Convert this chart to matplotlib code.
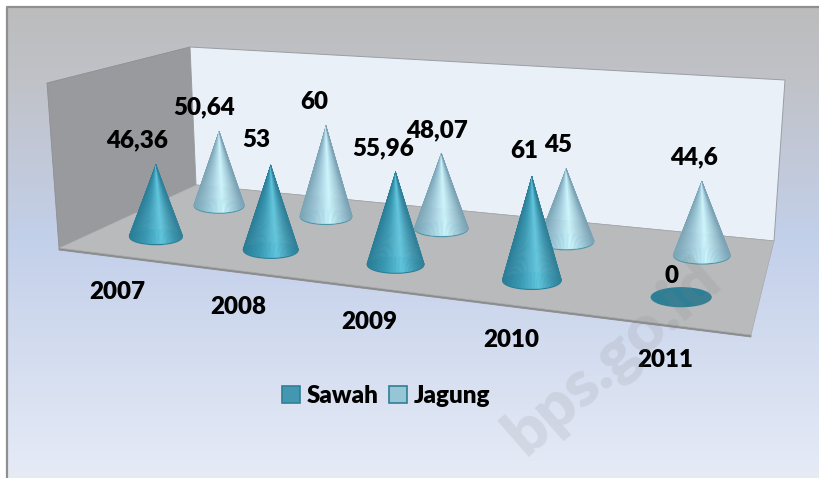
import numpy as np
import matplotlib
matplotlib.use("Agg")
import matplotlib.pyplot as plt
from matplotlib.collections import PolyCollection
from matplotlib.colors import LinearSegmentedColormap
from matplotlib.patches import Polygon, Ellipse, Patch

categories = ["2007", "2008", "2009", "2010", "2011"]
sawah = [46.36, 53, 55.96, 61, 0]
jagung = [50.64, 60, 48.07, 45, 44.6]
sawah_labels = ["46,36", "53", "55,96", "61", "0"]
jagung_labels = ["50,64", "60", "48,07", "45", "44,6"]
axis_max = 100.0

plt.rcParams["font.family"] = ["Lato", "DejaVu Sans"]
fig = plt.figure(figsize=(8.2, 4.78), dpi=100)
ax = fig.add_axes([0, 0, 1, 1])

# background
stops_y = [7, 80, 240, 478]
stops_r = [0xbc, 0xc0, 0xc3, 0xe6]
stops_g = [0xbc, 0xc2, 0xd0, 0xeb]
stops_b = [0xbc, 0xc8, 0xea, 0xf6]
ys = np.arange(7, 478)
grad = np.stack([np.interp(ys, stops_y, c) for c in (stops_r, stops_g, stops_b)], axis=1)[:, None, :] / 255
ax.imshow(grad, extent=(7, 820, 478, 7), aspect="auto", zorder=0)
ax.set_xlim(0, 820)
ax.set_ylim(478, 0)
ax.axis("off")
ax.plot([820, 7, 7], [7, 7, 478], color="#8f8f8f", lw=1.6, zorder=1)

# 3-D box corners in picture space
FL, FR, BR, BL = (59, 248), (751, 335), (774, 241), (196, 185)
TL_back, TR_back, TL_left = (190, 47), (785, 80), (47, 83)
ax.add_patch(Polygon([TL_left, TL_back, BL, FL], fc="#989a9d", ec="#8d8f92", lw=0.6, zorder=2))
ax.add_patch(Polygon([TL_back, TR_back, BR, BL], fc="#e9f0f8", ec="#9a9ea3", lw=0.7, zorder=2))
ax.add_patch(Polygon([(FL[0], FL[1] + 2), (FR[0], FR[1] + 2), FR, FL], fc="#8c8c8c", ec="#8c8c8c", lw=0.6, zorder=3))
ax.add_patch(Polygon([FL, FR, BR, BL], fc="#b8babc", ec="#a8aaac", lw=0.5, zorder=3))


def homography(quad):
    src = [(0, 0), (1, 0), (1, 1), (0, 1)]
    A, b = [], []
    for (u, v), (x, y) in zip(src, quad):
        A.append([u, v, 1, 0, 0, 0, -u * x, -v * x]); b.append(x)
        A.append([0, 0, 0, u, v, 1, -u * y, -v * y]); b.append(y)
    return np.append(np.linalg.solve(np.array(A, float), np.array(b, float)), 1).reshape(3, 3)


H = homography([FL, FR, BR, BL])


def floor(u, v):
    p = H @ np.array([u, v, 1.0])
    return p[0] / p[2], p[1] / p[2]


def wall_height(u, v):
    front = 155 * (1 - u) + 183 * u
    back = 138 * (1 - u) + 161 * u
    return front * (1 - v) + back * v


def cone(u, v, value, cmap, rim, flat, z):
    cx, cy = floor(u, v)
    H_full = wall_height(u, v)
    rx = 0.175 * H_full
    ry = rx * 0.30
    if value == 0:
        ax.add_patch(Ellipse((cx, cy), 2 * rx, 2 * ry * 1.1, fc=flat, ec="none", zorder=z))
        return cx, cy
    top = cy - value / axis_max * H_full
    ax.add_patch(Ellipse((cx, cy + 1.4), 2 * rx, 2 * ry, fc=rim, ec="none", zorder=z))
    t = np.linspace(np.pi, 0, 61)
    px, py = cx + rx * np.cos(t), cy + ry * np.sin(t)
    polys, cols = [], []
    for i in range(60):
        polys.append([(cx, top), (px[i], py[i]), (px[i + 1], py[i + 1])])
        cols.append(cmap((np.cos(t[i]) + np.cos(t[i + 1])) / 4 + 0.5))
    ax.add_collection(PolyCollection(polys, facecolors=cols, edgecolors=cols, linewidths=0.3, zorder=z + 0.1))
    return cx, top


cm_s = LinearSegmentedColormap.from_list("s", [(0, "#2a7d96"), (0.3, "#3a9ab5"), (0.62, "#62c8df"), (0.85, "#3f97b0"), (1, "#2f8098")])
cm_j = LinearSegmentedColormap.from_list("j", [(0, "#7ba5b6"), (0.3, "#a2ccdc"), (0.58, "#cdf6fe"), (0.85, "#9cc4d2"), (1, "#7ba3b5")])

n = len(categories)
for i, val in enumerate(jagung):
    cone((i + 0.5) / n + 0.007, 0.74, val, cm_j, "#4f96a8", "#9cc6d6", 10)
for i, val in enumerate(sawah):
    cone((i + 0.5) / n + 0.004, 0.26, val, cm_s, "#2a7f98", "#2e7f95", 20)

# text layout in picture space
font = dict(fontweight=800, fontsize=17.4, color="black", ha="center", va="center", zorder=30)
sawah_pos = [(137, 140), (256, 140), (383, 148), (524, 151), (672, 276)]
jagung_pos = [(204, 107), (314, 102), (437, 130), (558, 145), (694, 157)]
cat_pos = [(117, 292), (238, 307), (369, 322), (511, 340), (665, 360)]
for txt, p in zip(sawah_labels, sawah_pos):
    ax.text(*p, txt, **font)
for txt, p in zip(jagung_labels, jagung_pos):
    ax.text(*p, txt, **font)
for txt, p in zip(categories, cat_pos):
    ax.text(*p, txt, **font)

handles = [Patch(fc="#4497b0", ec="#2f7f97", lw=1.2), Patch(fc="#96c6d6", ec="#2f7f97", lw=1.2)]
ax.legend(handles, ["Sawah", "Jagung"], ncol=2, loc="center", bbox_to_anchor=(386, 396),
          bbox_transform=ax.transData, frameon=False, handlelength=0.75, handleheight=0.75,
          handletextpad=0.25, columnspacing=0.45, prop=dict(family="Lato", weight=800, size=17.4))

# faint source watermark of the reference
ax.text(613, 357, "bps.go.id", rotation=41, rotation_mode="anchor", fontsize=47, fontweight=800,
        color="#808080", alpha=0.15, ha="center", va="center", zorder=40)

fig.savefig("out.png", dpi=100)
